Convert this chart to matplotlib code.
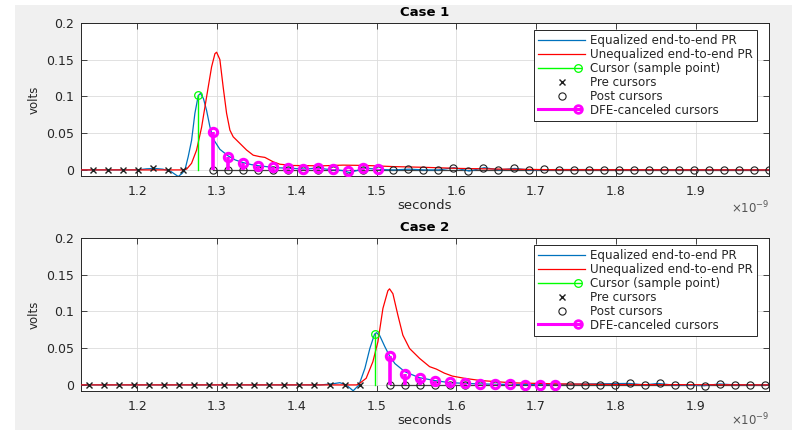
import matplotlib
matplotlib.use("Agg")
import matplotlib.pyplot as plt
import numpy as np
from matplotlib.lines import Line2D
from matplotlib.legend_handler import HandlerBase
from matplotlib.ticker import FixedLocator, FuncFormatter
from matplotlib.patches import Rectangle

# ---------------- data (seconds in units of 1e-9, volts) ----------------
UI = 0.018824  # symbol period (ns)

# Case 1
c1_cursor_t = 1.2764
c1_cursor_v = 0.102
c1_pre = [0.0, 0.0, 0.0, 0.0, 0.002, 0.0, 0.0]
c1_dfe = [0.051, 0.018, 0.010, 0.0058, 0.0045, 0.0027, 0.001, 0.003, 0.001, -0.002, 0.003, 0.001]
c1_post_rest = [0.0, 0.001, 0.0, 0.0, 0.003, -0.0015, 0.003, 0.0, 0.002, 0.0, 0.001, 0.0,
                0.0, 0.0, 0.0005, 0.0, 0.0, 0.0, 0.0, 0.0, 0.0, 0.0, 0.0, 0.0, 0.0, 0.0]
c1_eq_t = [1.10, 1.200, 1.212, 1.222, 1.232, 1.242, 1.2514, 1.2560, 1.2598, 1.2639, 1.2681,
           1.2723, 1.2765, 1.2793, 1.2830, 1.2869, 1.2911, 1.2953, 1.3036, 1.3140, 1.3230,
           1.3328, 1.3430, 1.3537, 1.3746, 1.3955, 1.4100, 1.4270, 1.4373, 1.4500, 1.4582,
           1.4657, 1.4750, 1.4840, 1.4950, 1.5030, 1.5220, 1.5410, 1.5600, 1.5780, 1.5970,
           1.6160, 1.6350, 1.6540, 1.6730, 1.6920, 1.7300, 2.00]
c1_eq_v = [0.0, 0.0, 0.0015, 0.002, 0.001, -0.002, -0.009, -0.005, 0.0, 0.018, 0.040,
           0.077, 0.101, 0.104, 0.097, 0.081, 0.0586, 0.0420, 0.028, 0.019, 0.0135,
           0.0099, 0.0072, 0.0054, 0.003, 0.002, 0.0012, 0.0025, 0.001, 0.0, -0.001,
           -0.0036, -0.001, 0.0025, 0.0015, 0.0005, 0.0, 0.001, 0.0, 0.0, 0.003,
           -0.0015, 0.003, 0.0, 0.002, 0.0, 0.0005, 0.0]
c1_uneq_t = [1.10, 1.2550, 1.2619, 1.2681, 1.2744, 1.2807, 1.2869, 1.2932, 1.2974, 1.2995,
             1.3036, 1.3078, 1.3120, 1.3162, 1.3203, 1.3287, 1.3371, 1.3454, 1.3537, 1.3600,
             1.3704, 1.3788, 1.3955, 1.4300, 1.4582, 1.4874, 1.5208, 1.5600, 1.6043, 1.6600,
             1.7200, 2.00]
c1_uneq_v = [0.0, 0.0, 0.001, 0.009, 0.027, 0.058, 0.099, 0.140, 0.158, 0.160,
             0.150, 0.112, 0.077, 0.054, 0.045, 0.036, 0.027, 0.020, 0.018, 0.017,
             0.011, 0.0077, 0.006, 0.0055, 0.0065, 0.006, 0.0045, 0.0035, 0.002, 0.001,
             0.0003, 0.0]

# Case 2
c2_cursor_t = 1.4975
c2_cursor_v = 0.069
c2_pre = [0.0] * 19
c2_dfe = [0.039, 0.0155, 0.0095, 0.0055, 0.0035, 0.0022, 0.0014, 0.001, 0.0007, 0.0005, 0.0003, 0.0002]
c2_post_rest = [0.0, 0.0, 0.0, 0.0, 0.002, 0.0, 0.002, 0.0, 0.0, -0.001, 0.0013, 0.0, 0.0, 0.0]
c2_eq_t = [1.10, 1.430, 1.445, 1.454, 1.462, 1.4707, 1.4780, 1.4854, 1.4916, 1.4975, 1.5000,
           1.5040, 1.5104, 1.5158, 1.5230, 1.5354, 1.5534, 1.5730, 1.5920, 1.6270, 1.6600,
           1.7000, 1.8170, 1.8360, 1.8530, 1.8700, 1.9110, 1.9300, 1.9500, 2.00]
c2_eq_v = [0.0, 0.0, 0.0015, 0.003, 0.0, -0.008, 0.0, 0.0225, 0.0495, 0.069, 0.071,
           0.067, 0.052, 0.0405, 0.029, 0.018, 0.0099, 0.0059, 0.003, 0.0014, 0.0007,
           0.0004, 0.002, 0.0, 0.002, 0.0, -0.001, 0.0013, 0.0, 0.0]
c2_uneq_t = [1.10, 1.4750, 1.4787, 1.4870, 1.4954, 1.5017, 1.5080, 1.5142, 1.5163, 1.5205,
             1.5268, 1.5330, 1.5414, 1.5540, 1.5665, 1.5750, 1.5850, 1.5950, 1.6100, 1.6300,
             1.6700, 1.7250, 1.8000, 2.00]
c2_uneq_v = [0.0, 0.0, 0.002, 0.009, 0.0315, 0.0586, 0.104, 0.128, 0.1306, 0.124,
             0.0946, 0.0676, 0.0495, 0.036, 0.0248, 0.0215, 0.016, 0.012, 0.009, 0.006,
             0.0028, 0.0014, 0.0005, 0.0]

cases = [
    dict(title="Case 1", ct=c1_cursor_t, cv=c1_cursor_v, pre=c1_pre, dfe=c1_dfe,
         rest=c1_post_rest, et=c1_eq_t, ev=c1_eq_v, ut=c1_uneq_t, uv=c1_uneq_v, oy=-0.205),
    dict(title="Case 2", ct=c2_cursor_t, cv=c2_cursor_v, pre=c2_pre, dfe=c2_dfe,
         rest=c2_post_rest, et=c2_eq_t, ev=c2_eq_v, ut=c2_uneq_t, uv=c2_uneq_v, oy=-0.185),
]

x_ticks = [1.2, 1.3, 1.4, 1.5, 1.6, 1.7, 1.8, 1.9]
y_ticks = [0, 0.05, 0.1, 0.15, 0.2]
legend_labels = ["Equalized end-to-end PR", "Unequalized end-to-end PR",
                 "Cursor (sample point)", "Pre cursors", "Post cursors",
                 "DFE-canceled cursors"]

# ---------------- styling ----------------
BLUE = "#0072BD"
RED = "#FF0000"
GREEN = "#00FF00"
MAG = "#FF00FF"
AXC = "#262626"
FIGBG = "#F0F0F0"

plt.rcParams["font.family"] = ["DejaVu Sans"]

fig = plt.figure(figsize=(7.92, 4.30), dpi=100, facecolor="white")
fig.patches.append(Rectangle((15 / 792, 0), 1, 1 - 5 / 430, transform=fig.transFigure,
                             facecolor=FIGBG, edgecolor="none", zorder=-10))


class StemHandler(HandlerBase):
    def create_artists(self, legend, orig_handle, xdescent, ydescent, width, height,
                       fontsize, trans):
        y = height / 2 - ydescent
        x0, x1 = -xdescent, width - xdescent
        ln = Line2D([x0, x1 - 3], [y, y], color=orig_handle.get_color(),
                    lw=orig_handle.get_linewidth())
        mk = Line2D([x1 - 5], [y], marker="o", markersize=orig_handle.get_markersize(),
                    markerfacecolor="none", markeredgecolor=orig_handle.get_color(),
                    markeredgewidth=orig_handle.get_markeredgewidth(), linestyle="none")
        ln.set_transform(trans)
        mk.set_transform(trans)
        return [ln, mk]


axes_pos = [(81 / 792, 1 - 176.3 / 430, 688 / 792, 153.5 / 430),
            (81 / 792, 1 - 391.3 / 430, 688 / 792, 153.5 / 430)]

for pos, c in zip(axes_pos, cases):
    ax = fig.add_axes(pos)
    ax.set_facecolor("white")
    npre = len(c["pre"])
    pre_t = [c["ct"] + UI * (k - npre) for k in range(npre)]
    ndfe = len(c["dfe"])
    post_all = ndfe + len(c["rest"])
    post_t = [c["ct"] + UI * (k + 1) for k in range(post_all)]
    post_v = [0.0] * ndfe + list(c["rest"])
    dfe_t = post_t[:ndfe]

    # baseline of the stem plot
    ax.plot([post_t[0], post_t[-1]], [0, 0], color="#404040", lw=0.9, zorder=2)
    ax.plot(c["et"], c["ev"], color=BLUE, lw=0.9, zorder=3)
    ax.plot(c["ut"], c["uv"], color=RED, lw=0.9, zorder=3)
    # cursor stem
    ax.plot([c["ct"], c["ct"]], [0, c["cv"]], color=GREEN, lw=1.0, zorder=4)
    ax.plot([c["ct"]], [c["cv"]], marker="o", ms=5.5, mfc="none", mec=GREEN, mew=0.9,
            ls="none", zorder=4)
    ax.plot(pre_t, c["pre"], ls="none", marker="x", ms=3.8, mec="#202020", mew=1.0, zorder=5)
    ax.plot(post_t, post_v, ls="none", marker="o", ms=5.2, mfc="none", mec="#202020",
            mew=0.8, zorder=5)
    for t, v in zip(dfe_t, c["dfe"]):
        ax.plot([t, t], [0, v], color=MAG, lw=2.6, zorder=6, solid_capstyle="butt")
    ax.plot(dfe_t, c["dfe"], ls="none", marker="o", ms=6, mfc="none", mec=MAG, mew=2.2,
            zorder=6)

    ax.set_xlim(1.1295, 1.992)
    ax.set_ylim(-0.0087, 0.2)
    ax.xaxis.set_major_locator(FixedLocator(x_ticks))
    ax.yaxis.set_major_locator(FixedLocator(y_ticks))
    ax.xaxis.set_major_formatter(FuncFormatter(lambda v, p: f"{v:.1f}"))
    ax.yaxis.set_major_formatter(FuncFormatter(lambda v, p: f"{v:g}"))
    ax.grid(True, color="#DCDCDC", lw=0.6)
    ax.set_axisbelow(True)
    ax.tick_params(direction="in", top=True, right=True, length=4, width=0.6,
                   colors=AXC, labelsize=9, labelcolor=AXC)
    ax.tick_params(axis="x", pad=6)
    ax.tick_params(axis="y", pad=5)
    for s in ax.spines.values():
        s.set_color(AXC)
        s.set_linewidth(0.7)
    ax.set_title(c["title"], fontsize=9.5, fontweight="bold", color="black", pad=5)
    ax.set_xlabel("seconds", fontsize=9.5, color=AXC, labelpad=1)
    ax.set_ylabel("volts", fontsize=8.5, color=AXC, labelpad=4)
    ax.text(1.0, c["oy"], r"$\times10^{-9}$", transform=ax.transAxes, ha="right",
            va="center", fontsize=8.5, color="#555555")

    handles = [
        Line2D([], [], color=BLUE, lw=0.9),
        Line2D([], [], color=RED, lw=0.9),
        Line2D([], [], color=GREEN, lw=1.0, marker="o", ms=5.5, mew=0.9),
        Line2D([], [], ls="none", marker="x", ms=3.8, mec="#202020", mew=1.0),
        Line2D([], [], ls="none", marker="o", ms=5.2, mfc="none", mec="#202020", mew=0.8),
        Line2D([], [], color=MAG, lw=2.2, marker="o", ms=5.5, mew=2.0),
    ]
    hmap = {handles[2]: StemHandler(), handles[5]: StemHandler()}
    leg = ax.legend(handles, legend_labels, loc="upper right",
                    bbox_to_anchor=(0.983, 0.955), borderaxespad=0, fontsize=8.6,
                    frameon=True, fancybox=False, edgecolor="#262626", framealpha=1,
                    handlelength=3.9, handletextpad=0.45, labelspacing=0.08,
                    borderpad=0.35, handler_map=hmap)
    leg.get_frame().set_linewidth(0.7)
    for t in leg.get_texts():
        t.set_color(AXC)

fig.savefig("out.png", dpi=100, facecolor=fig.get_facecolor())
